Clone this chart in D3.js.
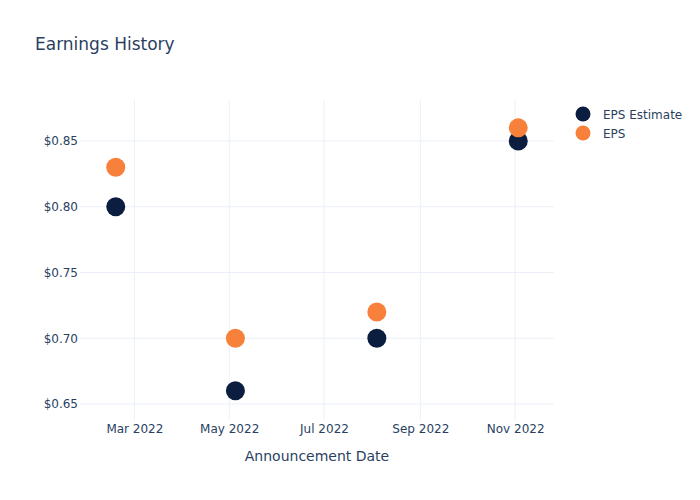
<!DOCTYPE html>
<html>
<head>
<meta charset="utf-8">
<script src="https://cdn.jsdelivr.net/npm/d3@7"></script>
<style>
  body { margin: 0; background: #fff; }
  text { font-family: "DejaVu Sans", sans-serif; fill: #2a3f5f; }
</style>
</head>
<body>
<div id="chart"></div>
<script>
// data
var dates = ["2022-02-17", "2022-05-05", "2022-08-04", "2022-11-03"];
var epsEstimate = [0.80, 0.66, 0.70, 0.85];
var epsActual = [0.83, 0.70, 0.72, 0.86];
var yTicks = [0.65, 0.70, 0.75, 0.80, 0.85];
var seriesNames = ["EPS Estimate", "EPS"];
var seriesColors = ["#0b1e3f", "#f7813a"];

var svgWidth = 700;
var svgHeight = 500;

var margin = { top: 100, right: 146, bottom: 80, left: 80 };
var width = svgWidth - margin.left - margin.right;
var height = svgHeight - margin.top - margin.bottom;

var parseDate = d3.timeParse("%Y-%m-%d");

var svg = d3.select("#chart").append("svg")
    .attr("width", svgWidth)
    .attr("height", svgHeight);

var chartGroup = svg.append("g")
    .attr("transform", `translate(${margin.left}, ${margin.top})`);

var xScale = d3.scaleTime()
    .domain([parseDate("2022-01-25"), parseDate("2022-11-26")])
    .range([0, width]);

var yScale = d3.scaleLinear()
    .domain([0.6378, 0.8812])
    .range([height, 0]);

var xTicks = d3.timeMonth.every(2).range(parseDate("2022-03-01"), parseDate("2022-12-01"));

//grid lines
chartGroup.append("g")
    .selectAll("line")
    .data(xTicks)
    .enter()
    .append("line")
    .attr("x1", d => xScale(d))
    .attr("x2", d => xScale(d))
    .attr("y1", 0)
    .attr("y2", height)
    .attr("stroke", "#ebf0f8");

chartGroup.append("g")
    .selectAll("line")
    .data(yTicks)
    .enter()
    .append("line")
    .attr("x1", 0)
    .attr("x2", width)
    .attr("y1", d => yScale(d))
    .attr("y2", d => yScale(d))
    .attr("stroke", "#ebf0f8");

//axes
var bottomAxis = d3.axisBottom(xScale)
    .tickValues(xTicks)
    .tickFormat(d3.timeFormat("%b %Y"))
    .tickSize(0)
    .tickPadding(4);

var leftAxis = d3.axisLeft(yScale)
    .tickValues(yTicks)
    .tickFormat(d3.format("$.2f"))
    .tickSize(0)
    .tickPadding(2);

var xAxis = chartGroup.append("g")
    .attr("transform", `translate(0, ${height})`)
    .call(bottomAxis);

var yAxis = chartGroup.append("g")
    .call(leftAxis);

[xAxis, yAxis].forEach(function (ax) {
    ax.select(".domain").remove();
    ax.selectAll("text")
        .attr("font-size", "12px")
        .attr("font-family", "DejaVu Sans, sans-serif")
        .attr("fill", "#2a3f5f");
});

//points
var allSeries = [epsEstimate, epsActual];
allSeries.forEach(function (values, i) {
    chartGroup.append("g")
        .selectAll("circle")
        .data(values)
        .enter()
        .append("circle")
        .attr("cx", (d, j) => xScale(parseDate(dates[j])))
        .attr("cy", d => yScale(d))
        .attr("r", 9.5)
        .attr("fill", seriesColors[i]);
});

//title
svg.append("text")
    .attr("x", 35)
    .attr("y", 50)
    .attr("font-size", "17px")
    .text("Earnings History");

//axis title
svg.append("text")
    .attr("x", margin.left + width / 2)
    .attr("y", 461)
    .attr("text-anchor", "middle")
    .attr("font-size", "14px")
    .text("Announcement Date");

//legend
var legend = svg.append("g")
    .attr("transform", "translate(583, 114)");

seriesNames.forEach(function (name, i) {
    legend.append("circle")
        .attr("cx", 0)
        .attr("cy", i * 19)
        .attr("r", 7.5)
        .attr("fill", seriesColors[i]);
    legend.append("text")
        .attr("x", 20)
        .attr("y", i * 19 + 4.5)
        .attr("font-size", "12px")
        .text(name);
});
</script>
</body>
</html>
